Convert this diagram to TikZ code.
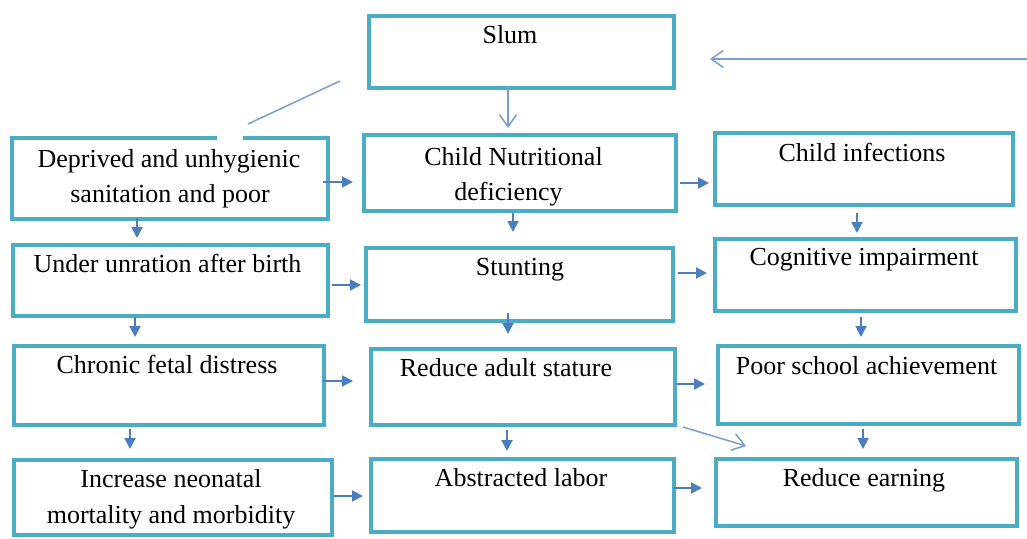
\documentclass[tikz,border=0pt]{standalone}
\usepackage{fontspec}
\setmainfont{Liberation Serif}
\usetikzlibrary{arrows.meta,calc}
\definecolor{boxc}{HTML}{4BACC6}
\definecolor{arrc}{HTML}{4A7EBF}
\definecolor{thinc}{HTML}{7A9DD2}
\tikzset{
  box/.style={draw=boxc, line width=4pt, rectangle, inner sep=0pt, fill=white},
  txt/.style={anchor=base, inner sep=0pt, font=\fontsize{26}{30}\selectfont},
  arr/.style={draw=arrc, line width=2pt, -{Triangle[length=11pt,width=11pt]}},
  openarr/.style={draw=thinc, line width=1.5pt, -{Straight Barb[length=12pt,width=17pt,line width=1.5pt]}},
  thin/.style={draw=thinc, line width=1.5pt}
}
\begin{document}
\begin{tikzpicture}[x=1pt,y=-1pt]
\useasboundingbox[fill=white] (0,0) rectangle (1027,538);
% boxes
\node[box, minimum width=305pt, minimum height=72pt] (slum) at (521.5,52) {};
\node[box, minimum width=316pt, minimum height=81pt] (dep) at (170,178.5) {};
\node[box, minimum width=312pt, minimum height=76pt] (cn) at (520,173) {};
\node[box, minimum width=298pt, minimum height=72pt] (ci) at (864,169) {};
\node[box, minimum width=315pt, minimum height=71pt] (und) at (170.5,280.5) {};
\node[box, minimum width=307pt, minimum height=73pt] (stun) at (519.5,284.5) {};
\node[box, minimum width=301pt, minimum height=72pt] (cog) at (865.5,275) {};
\node[box, minimum width=310pt, minimum height=79pt] (chr) at (169,385.5) {};
\node[box, minimum width=304pt, minimum height=76pt] (red) at (523,387) {};
\node[box, minimum width=301pt, minimum height=78pt] (poor) at (868.5,385) {};
\node[box, minimum width=318pt, minimum height=75pt] (inc) at (173,497.5) {};
\node[box, minimum width=303pt, minimum height=73pt] (abs) at (522.5,495.5) {};
\node[box, minimum width=301pt, minimum height=67pt] (re) at (866.5,492.5) {};
% texts
\node[txt] (tslum) at (510,43) {Slum};
\node[txt] (tdep1) at (169,167) {Deprived and unhygienic};
\node[txt] (tdep2) at (170,202) {sanitation and poor};
\node[txt] (tcn1) at (513.5,165) {Child Nutritional};
\node[txt] (tcn2) at (508.5,200) {deficiency};
\node[txt] (tci) at (862,161) {Child infections};
\node[txt] (tund) at (167.5,272) {Under unration after birth};
\node[txt] (tstun) at (520,275) {Stunting};
\node[txt] (tcog) at (864,265) {Cognitive impairment};
\node[txt] (tchr) at (167,373) {Chronic fetal distress};
\node[txt] (tred) at (506,376) {Reduce adult stature};
\node[txt] (tpoor) at (866.5,374) {Poor school achievement};
\node[txt] (tinc1) at (171,487) {Increase neonatal};
\node[txt] (tinc2) at (171,523) {mortality and morbidity};
\node[txt] (tabs) at (521,486) {Abstracted labor};
\node[txt] (tre) at (864,486) {Reduce earning};
% gap in the top border of the first box
\draw[white, line width=5pt] (217,137.5) -- (243,137.5);
% thin connectors
\coordinate (lineA) at (340,81);
\coordinate (lineB) at (248,124);
\draw[thin] (lineA) -- (lineB);
\coordinate (rin) at (1027,59);
\draw[openarr, shorten >=34pt] (rin) -- (slum.east |- rin);
\draw[openarr, shorten <=-3pt, shorten >=5pt] (slum.south -| 508,0) -- (cn.north -| 508,0);
\draw[openarr] ($(red.south east)+(6,0)$) -- ($(re.north west)+(32,-11)$);
% horizontal arrows
\draw[arr, shorten <=-7pt, shorten >=9pt] (dep.east |- 0,182) -- (cn.west |- 0,182);
\draw[arr, shorten <=2pt, shorten >=4pt] (cn.east |- 0,183) -- (ci.west |- 0,183);
\draw[arr, shorten <=2pt, shorten >=3pt] (und.east |- 0,285) -- (stun.west |- 0,285);
\draw[arr, shorten <=3pt, shorten >=6pt] (stun.east |- 0,273) -- (cog.west |- 0,273);
\draw[arr, shorten <=-3pt, shorten >=16pt] (chr.east |- 0,381) -- (red.west |- 0,381);
\draw[arr, shorten <=-1pt, shorten >=11pt] (red.east |- 0,384) -- (poor.west |- 0,384);
\draw[arr, shorten <=-1pt, shorten >=6pt] (inc.east |- 0,496) -- (abs.west |- 0,496);
\draw[arr, shorten <=-2pt, shorten >=12pt] (abs.east |- 0,488) -- (re.west |- 0,488);
% vertical arrows
\draw[arr, shorten <=-3pt, shorten >=5pt] (dep.south -| 137,0) -- (und.north -| 137,0);
\draw[arr, shorten <=-1pt, shorten >=7pt] (und.south -| 135,0) -- (chr.north -| 135,0);
\draw[arr, shorten <=2pt, shorten >=9pt] (chr.south -| 130,0) -- (inc.north -| 130,0);
\draw[arr, shorten <=0pt, shorten >=14pt] (cn.south -| 513,0) -- (stun.north -| 513,0);
\draw[arr, shorten <=-10pt, shorten >=13pt] (stun.south -| 508,0) -- (red.north -| 508,0);
\draw[arr, shorten <=3pt, shorten >=6pt] (red.south -| 507,0) -- (abs.north -| 507,0);
\draw[arr, shorten <=6pt, shorten >=4pt] (ci.south -| 857,0) -- (cog.north -| 857,0);
\draw[arr, shorten <=4pt, shorten >=7pt] (cog.south -| 861,0) -- (poor.north -| 861,0);
\draw[arr, shorten <=3pt, shorten >=8pt] (poor.south -| 863,0) -- (re.north -| 863,0);
\end{tikzpicture}
\end{document}
